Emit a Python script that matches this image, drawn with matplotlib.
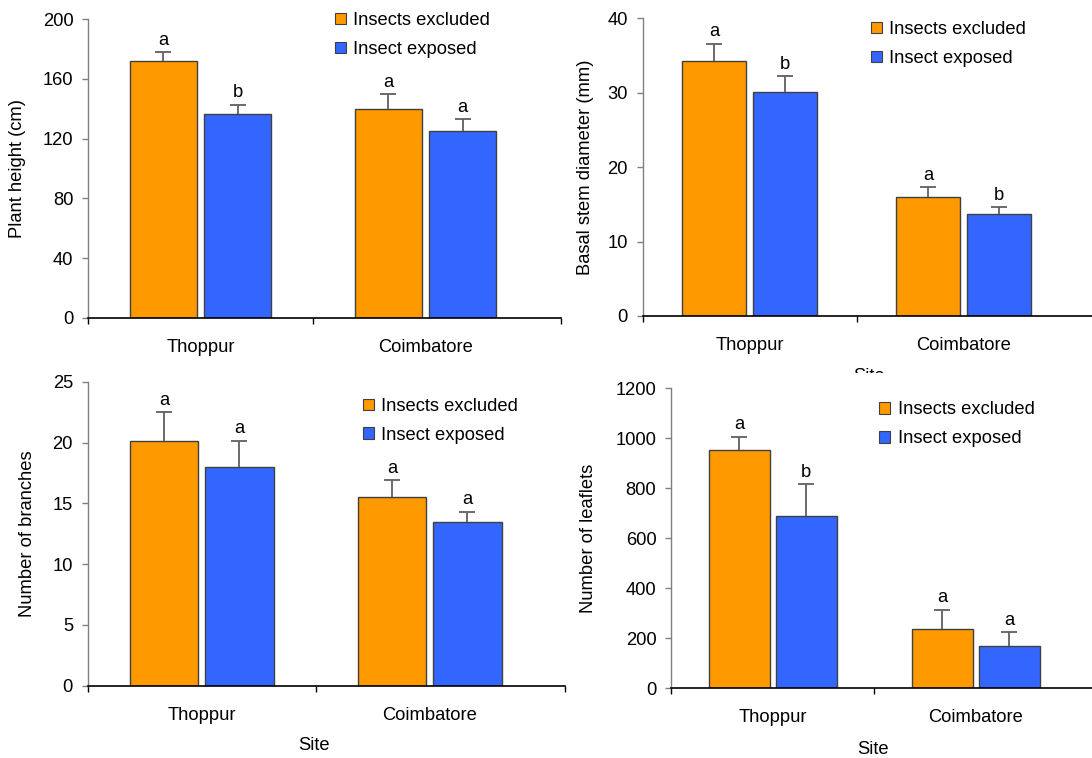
import matplotlib
matplotlib.use("Agg")
import matplotlib.pyplot as plt
import numpy as np
from matplotlib.patches import Patch
from matplotlib.transforms import Bbox, TransformedBbox

plt.rcParams["font.family"] = ["Liberation Sans", "DejaVu Sans"]
plt.rcParams["font.size"] = 13.2

W, H = 1092, 758

sites = ["Thoppur", "Coimbatore"]
series = ["Insects excluded", "Insect exposed"]
colors = ["#FF9900", "#3366FF"]

# plant height (cm)
height_excl = [171.8, 139.5]
height_excl_se = [5.8, 10.0]
height_exp = [136.4, 124.8]
height_exp_se = [6.4, 8.0]
height_letters = [["a", "a"], ["b", "a"]]

# basal stem diameter (mm)
stem_excl = [34.3, 16.0]
stem_excl_se = [2.3, 1.3]
stem_exp = [30.1, 13.75]
stem_exp_se = [2.1, 0.85]
stem_letters = [["a", "a"], ["b", "b"]]

# number of branches
branch_excl = [20.15, 15.55]
branch_excl_se = [2.33, 1.35]
branch_exp = [17.95, 13.5]
branch_exp_se = [2.2, 0.82]
branch_letters = [["a", "a"], ["a", "a"]]

# number of leaflets
leaf_excl = [952, 236]
leaf_excl_se = [53, 79]
leaf_exp = [691, 168]
leaf_exp_se = [125, 56]
leaf_letters = [["a", "a"], ["b", "a"]]

panels = [
    dict(ylabel="Plant height (cm)", excl=height_excl, excl_se=height_excl_se,
         exp=height_exp, exp_se=height_exp_se, letters=height_letters,
         yticks=np.arange(0, 201, 40), site=None,
         box=(88, 19, 318, 225, 561), ylab_x=26.5, leg=(335, 12)),
    dict(ylabel="Basal stem diameter (mm)", excl=stem_excl, excl_se=stem_excl_se,
         exp=stem_exp, exp_se=stem_exp_se, letters=stem_letters,
         yticks=np.arange(0, 41, 10), site=(869, 381, 372.7),
         box=(642.7, 18.3, 316, 214, 1100), ylab_x=594, leg=(871, 21)),
    dict(ylabel="Number of branches", excl=branch_excl, excl_se=branch_excl_se,
         exp=branch_exp, exp_se=branch_exp_se, letters=branch_letters,
         yticks=np.arange(0, 26, 5), site=(314, 750, None),
         box=(87.7, 381.7, 685.7, 228, 565), ylab_x=36.5, leg=(362.7, 397.8)),
    dict(ylabel="Number of leaflets", excl=leaf_excl, excl_se=leaf_excl_se,
         exp=leaf_exp, exp_se=leaf_exp_se, letters=leaf_letters,
         yticks=np.arange(0, 1201, 200), site=(872.7, 754, None),
         box=(671, 388.3, 688.3, 203.3, 1100), ylab_x=597, leg=(879.3, 401.5)),
]

fig = plt.figure(figsize=(W / 100, H / 100), dpi=100)

bw = 0.30
off = 0.165
x = np.arange(len(sites))

for p in panels:
    left, top, bottom, catw, right = p["box"]
    ax = fig.add_axes([left / W, 1 - bottom / H, (right - left) / W, (bottom - top) / H])
    xmax = -0.5 + (right - left) / catw

    for k, (vals, se, col) in enumerate([(p["excl"], p["excl_se"], colors[0]),
                                          (p["exp"], p["exp_se"], colors[1])]):
        xs = x + (off if k else -off)
        vals = np.asarray(vals, float)
        se = np.asarray(se, float)
        ax.bar(xs, vals, bw, color=col, edgecolor="#404040", linewidth=1.0,
               label=series[k], zorder=2)
        eb = ax.errorbar(xs, vals, yerr=[np.zeros(len(vals)), se], fmt="none",
                         ecolor="#606060", elinewidth=1.3, capsize=6, capthick=1.3, zorder=3)
        # only the upper cap is shown
        for cl in eb.lines[1]:
            if np.allclose(cl.get_ydata(), vals):
                cl.set_visible(False)
        for xi, v, s, let in zip(xs, vals, se, p["letters"][k]):
            ax.annotate(let, (xi, v + s), xytext=(0, 5.5), textcoords="offset points",
                        ha="center", va="baseline")

    ax.set_xlim(-0.5, xmax)
    ax.set_ylim(p["yticks"][0], p["yticks"][-1])
    ax.set_yticks(p["yticks"])
    ax.set_xticks([-0.5, 0.5, xmax])
    ax.set_xticklabels([])
    ax.set_xticks(x, minor=True)
    ax.set_xticklabels(sites, minor=True)
    ax.tick_params(axis="x", which="major", direction="out", length=4.3, width=1, color="black")
    ax.tick_params(axis="x", which="minor", length=0, pad=15)
    ax.tick_params(axis="y", direction="out", length=4.3, width=1, color="#808080", pad=6.3)

    for s in ["top", "right"]:
        ax.spines[s].set_visible(False)
    ax.spines["left"].set_color("#808080")
    ax.spines["bottom"].set_color("black")
    ax.spines["left"].set_linewidth(1)
    ax.spines["bottom"].set_linewidth(1.2)
    ax.spines["bottom"].set_zorder(4)

    ax.set_ylabel(p["ylabel"])
    ax.yaxis.set_label_coords((p["ylab_x"] - left) / (right - left), 0.5)

    handles = [Patch(facecolor=c, edgecolor="#404040", linewidth=0.8) for c in colors]
    lx, ly = p["leg"]
    ax.legend(handles, series, loc="upper left", bbox_to_anchor=(lx / W, 1 - ly / H),
              bbox_transform=fig.transFigure, frameon=False, borderpad=0,
              borderaxespad=0, handlelength=0.6, handleheight=0.6,
              handletextpad=0.4, labelspacing=0.65)

    if p["site"] is not None:
        sx, sy, clip = p["site"]
        t = fig.text(sx / W, 1 - sy / H, "Site", ha="center", va="baseline")
        if clip is not None:
            t.set_clip_box(TransformedBbox(Bbox([[0, 1 - clip / H], [1, 1]]), fig.transFigure))
            t.set_clip_on(True)

fig.savefig("out.png", dpi=100)
